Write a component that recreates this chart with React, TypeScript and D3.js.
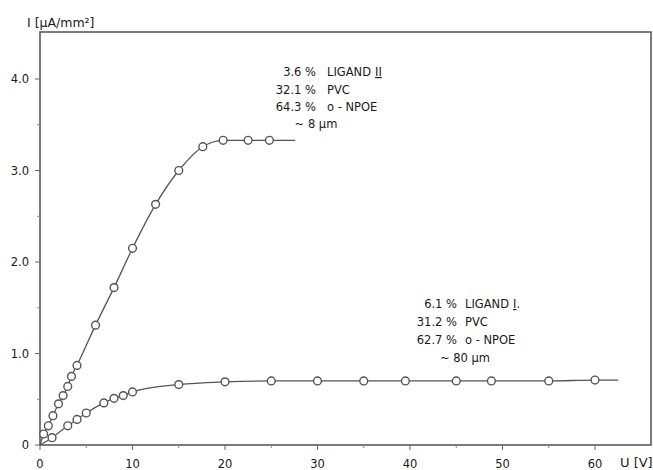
import React from 'react';
import * as d3 from 'd3';

// measured points, U [V] and I [µA/mm²]
const ligand2U = [0.4, 0.9, 1.4, 2, 2.5, 3, 3.4, 4, 6, 8, 10, 12.5, 15, 17.6, 19.8, 22.5, 24.8];
const ligand2I = [0.12, 0.21, 0.32, 0.45, 0.54, 0.64, 0.75, 0.87, 1.31, 1.72, 2.15, 2.63, 3.0, 3.26, 3.33, 3.33, 3.33];
const ligand2Ends = [[0, 0], [27.6, 3.33]];

const ligand1U = [1.3, 3, 4, 5, 6.9, 8, 9, 10, 15, 20, 25, 30, 35, 39.5, 45, 48.8, 55, 60];
const ligand1I = [0.08, 0.21, 0.28, 0.35, 0.46, 0.51, 0.54, 0.58, 0.66, 0.69, 0.7, 0.7, 0.7, 0.7, 0.7, 0.7, 0.7, 0.71];
const ligand1Ends = [[0, 0], [62.5, 0.71]];

const xMajor = [0, 10, 20, 30, 40, 50, 60];
const xMinor = [5, 15, 25, 35, 45, 55];
const yMajor = [0, 1, 2, 3, 4];
const yMinor = [0.5, 1.5, 2.5, 3.5];
const yLabels = ['0', '1.0', '2.0', '3.0', '4.0'];

const note2Pct = ['3.6 %', '32.1 %', '64.3 %'];
const note2Name = ['LIGAND', 'PVC', 'o - NPOE'];
const note1Pct = ['6.1 %', '31.2 %', '62.7 %'];
const note1Name = ['LIGAND', 'PVC', 'o - NPOE'];

const App = () => {
  const width = 653;
  const height = 470;
  const frame = { left: 40, top: 32, right: 651, bottom: 445 };

  const x = d3.scaleLinear().domain([0, 60]).range([40, 595]);
  const y = d3.scaleLinear().domain([0, 4]).range([445, 79]);

  const ink = '#1a1a1a';
  const lineColor = '#555';
  const font = '"DejaVu Sans", sans-serif';

  const line = d3
    .line<number[]>()
    .x(d => x(d[0]))
    .y(d => y(d[1]))
    .curve(d3.curveMonotoneX);

  const pts2 = ligand2U.map((u, i) => [u, ligand2I[i]]);
  const pts1 = ligand1U.map((u, i) => [u, ligand1I[i]]);
  const path2 = line([ligand2Ends[0], ...pts2, ligand2Ends[1]]);
  const path1 = line([ligand1Ends[0], ...pts1, ligand1Ends[1]]);

  const circles = (pts: number[][], key: string) =>
    pts.map((d, i) => (
      <circle
        key={key + i}
        cx={x(d[0])}
        cy={y(d[1])}
        r={3.9}
        fill="#fff"
        stroke={lineColor}
        strokeWidth={1.4}
      />
    ));

  return (
    <svg
      width={width}
      height={height}
      style={{ position: 'absolute', left: 0, top: 0, background: '#fff' }}
      fontFamily={font}
    >
      {/* frame */}
      <rect
        x={frame.left}
        y={frame.top}
        width={frame.right - frame.left}
        height={frame.bottom - frame.top}
        fill="none"
        stroke="#444"
        strokeWidth={1.4}
      />

      {/* y ticks */}
      {yMajor.map((v, i) => (
        <g key={'ym' + v}>
          <line x1={frame.left - 5} x2={frame.left} y1={y(v)} y2={y(v)} stroke="#666" strokeWidth={1} />
          <text x={29} y={y(v) + 4} textAnchor="end" fontSize={11.5} fill={ink}>
            {yLabels[i]}
          </text>
        </g>
      ))}
      {yMinor.map(v => (
        <line key={'yn' + v} x1={frame.left - 3} x2={frame.left} y1={y(v)} y2={y(v)} stroke="#888" strokeWidth={1} />
      ))}

      {/* x ticks */}
      {xMajor.map(v => (
        <g key={'xm' + v}>
          <line x1={x(v)} x2={x(v)} y1={frame.bottom} y2={frame.bottom + 5} stroke="#666" strokeWidth={1} />
          <text x={x(v)} y={468} textAnchor="middle" fontSize={11.5} fill={ink}>
            {v}
          </text>
        </g>
      ))}
      {xMinor.map(v => (
        <line key={'xn' + v} x1={x(v)} x2={x(v)} y1={frame.bottom} y2={frame.bottom + 3} stroke="#888" strokeWidth={1} />
      ))}

      {/* axis titles */}
      <text x={27} y={27} fontSize={12.5} fill={ink}>
        I [µA/mm²]
      </text>
      <text x={620} y={467} fontSize={13} fill={ink}>
        U [V]
      </text>

      {/* curves */}
      <path d={path2 || ''} fill="none" stroke={lineColor} strokeWidth={1.3} />
      <path d={path1 || ''} fill="none" stroke={lineColor} strokeWidth={1.3} />
      {circles(pts2, 'c2')}
      {circles(pts1, 'c1')}

      {/* annotation ligand II */}
      <g fontSize={11.5} fill={ink}>
        {note2Pct.map((p, i) => (
          <g key={'n2' + i}>
            <text x={316} y={76 + i * 17.6} textAnchor="end">{p}</text>
            <text x={327} y={76 + i * 17.6}>
              {note2Name[i]}
              {i === 0 ? <tspan dx={4} textDecoration="underline">II</tspan> : null}
            </text>
          </g>
        ))}
        <text x={316} y={128} textAnchor="middle">~ 8 µm</text>
      </g>

      {/* annotation ligand I */}
      <g fontSize={11.5} fill={ink}>
        {note1Pct.map((p, i) => (
          <g key={'n1' + i}>
            <text x={457} y={308 + i * 18.2} textAnchor="end">{p}</text>
            <text x={465} y={308 + i * 18.2}>
              {note1Name[i]}
              {i === 0 ? <tspan dx={4} textDecoration="underline">I</tspan> : null}
              {i === 0 ? '.' : null}
            </text>
          </g>
        ))}
        <text x={465} y={362} textAnchor="middle">~ 80 µm</text>
      </g>
    </svg>
  );
};

export default App;
